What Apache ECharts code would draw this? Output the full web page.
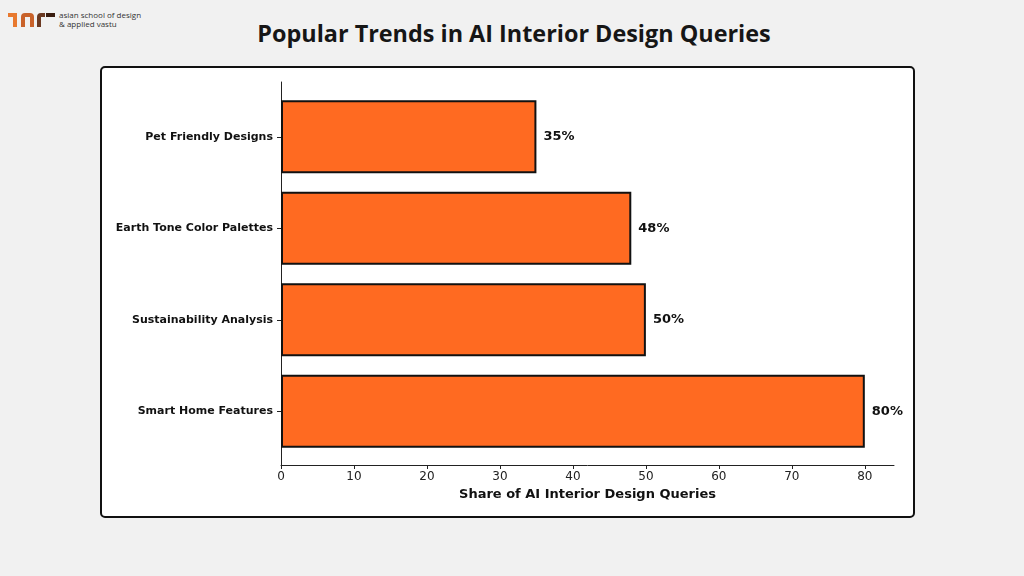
<!DOCTYPE html>
<html>
<head>
<meta charset="utf-8">
<script src="https://cdn.jsdelivr.net/npm/echarts@6/dist/echarts.min.js"></script>
<style>
  html, body { margin: 0; padding: 0; background: #f1f1f1; }
  #wrap { position: relative; width: 1024px; height: 576px; overflow: hidden; }
  #card { position: absolute; left: 100px; top: 66px; width: 811px; height: 448px;
          border: 2px solid #111; border-radius: 5px; background: #fff; }
  #title { position: absolute; left: 0; top: 17px; width: 1028px; text-align: center;
           font-family: 'Open Sans', sans-serif; font-weight: 700; font-size: 23.4px; color: #161616; }
  #logo { position: absolute; left: 8px; top: 8px; }
  #logo .t { position: absolute; left: 51px; font-family: 'Open Sans', sans-serif; font-size: 8px;
             color: #333; white-space: nowrap; line-height: 9px; }
  #chart { position: absolute; left: 0; top: 0; width: 1024px; height: 576px; }
</style>
</head>
<body>
<div id="wrap">
  <div id="logo">
    <svg width="50" height="20" style="position:absolute;left:0;top:3px">
      <rect x="0" y="2" width="9" height="4" fill="#e8792f"/>
      <rect x="5" y="2" width="4" height="14" fill="#e8792f"/>
      <path d="M13 16 V6 Q13 2 17 2 H22 Q26 2 26 6 V16 H22 V6 H17 V16 Z" fill="#c9622a"/>
      <path d="M29 16 V6 Q29 2 33 2 H37 V6 H33 V16 Z" fill="#6b3a22"/>
      <rect x="38" y="2" width="9" height="4" fill="#3a1d10"/>
    </svg>
    <div class="t" style="top:2px">asian school of design</div>
    <div class="t" style="top:11px">&amp; applied vastu</div>
  </div>
  <div id="title">Popular Trends in AI Interior Design Queries</div>
  <div id="card"></div>
  <div id="chart"></div>
</div>
<script>
const categories = ['Smart Home Features', 'Sustainability Analysis', 'Earth Tone Color Palettes', 'Pet Friendly Designs']
const shares = [80, 50, 48, 35]
const xTicks = [0, 10, 20, 30, 40, 50, 60, 70, 80]

const chart = echarts.init(document.getElementById('chart'))
const font = 'DejaVu Sans'
const axisColor = '#222'

const option = {
  animation: false,
  grid: [
    // frame grid: spines + x ticks
    { left: 281, top: 82, width: 613, height: 383 },
    // bar grid
    { left: 281, top: 91, width: 613, height: 366 }
  ],
  xAxis: [
    {
      gridIndex: 0,
      type: 'value',
      min: 0,
      max: 84,
      axisLine: { show: true, lineStyle: { color: axisColor, width: 1 } },
      axisTick: { show: true, length: 4, lineStyle: { color: axisColor }, customValues: xTicks },
      axisLabel: { customValues: xTicks, margin: 6, color: '#222', fontFamily: font, fontSize: 12 },
      splitLine: { show: false },
      name: 'Share of AI Interior Design Queries',
      nameLocation: 'middle',
      nameGap: 23,
      nameTextStyle: { fontFamily: font, fontWeight: 'bold', fontSize: 13, color: '#111' }
    },
    {
      gridIndex: 1,
      type: 'value',
      min: 0,
      max: 84,
      show: false
    }
  ],
  yAxis: [
    {
      gridIndex: 0,
      type: 'value',
      min: 0,
      max: 1,
      axisLine: { show: true, lineStyle: { color: axisColor, width: 1 } },
      axisTick: { show: false },
      axisLabel: { show: false },
      splitLine: { show: false }
    },
    {
      gridIndex: 1,
      type: 'category',
      data: categories,
      axisLine: { show: false },
      axisTick: { show: true, alignWithLabel: true, length: 4, lineStyle: { color: axisColor } },
      axisLabel: { margin: 8, color: '#111', fontFamily: font, fontWeight: 'bold', fontSize: 11 }
    }
  ],
  series: [
    {
      type: 'bar',
      xAxisIndex: 1,
      yAxisIndex: 1,
      barWidth: '80%',
      data: shares,
      itemStyle: { color: '#ff6a21', borderColor: '#111', borderWidth: 2 },
      label: {
        show: true,
        position: 'right',
        distance: 7,
        formatter: '{c}%',
        fontFamily: font,
        fontWeight: 'bold',
        fontSize: 13,
        color: '#111'
      }
    }
  ]
}
chart.setOption(option)
</script>
</body>
</html>
